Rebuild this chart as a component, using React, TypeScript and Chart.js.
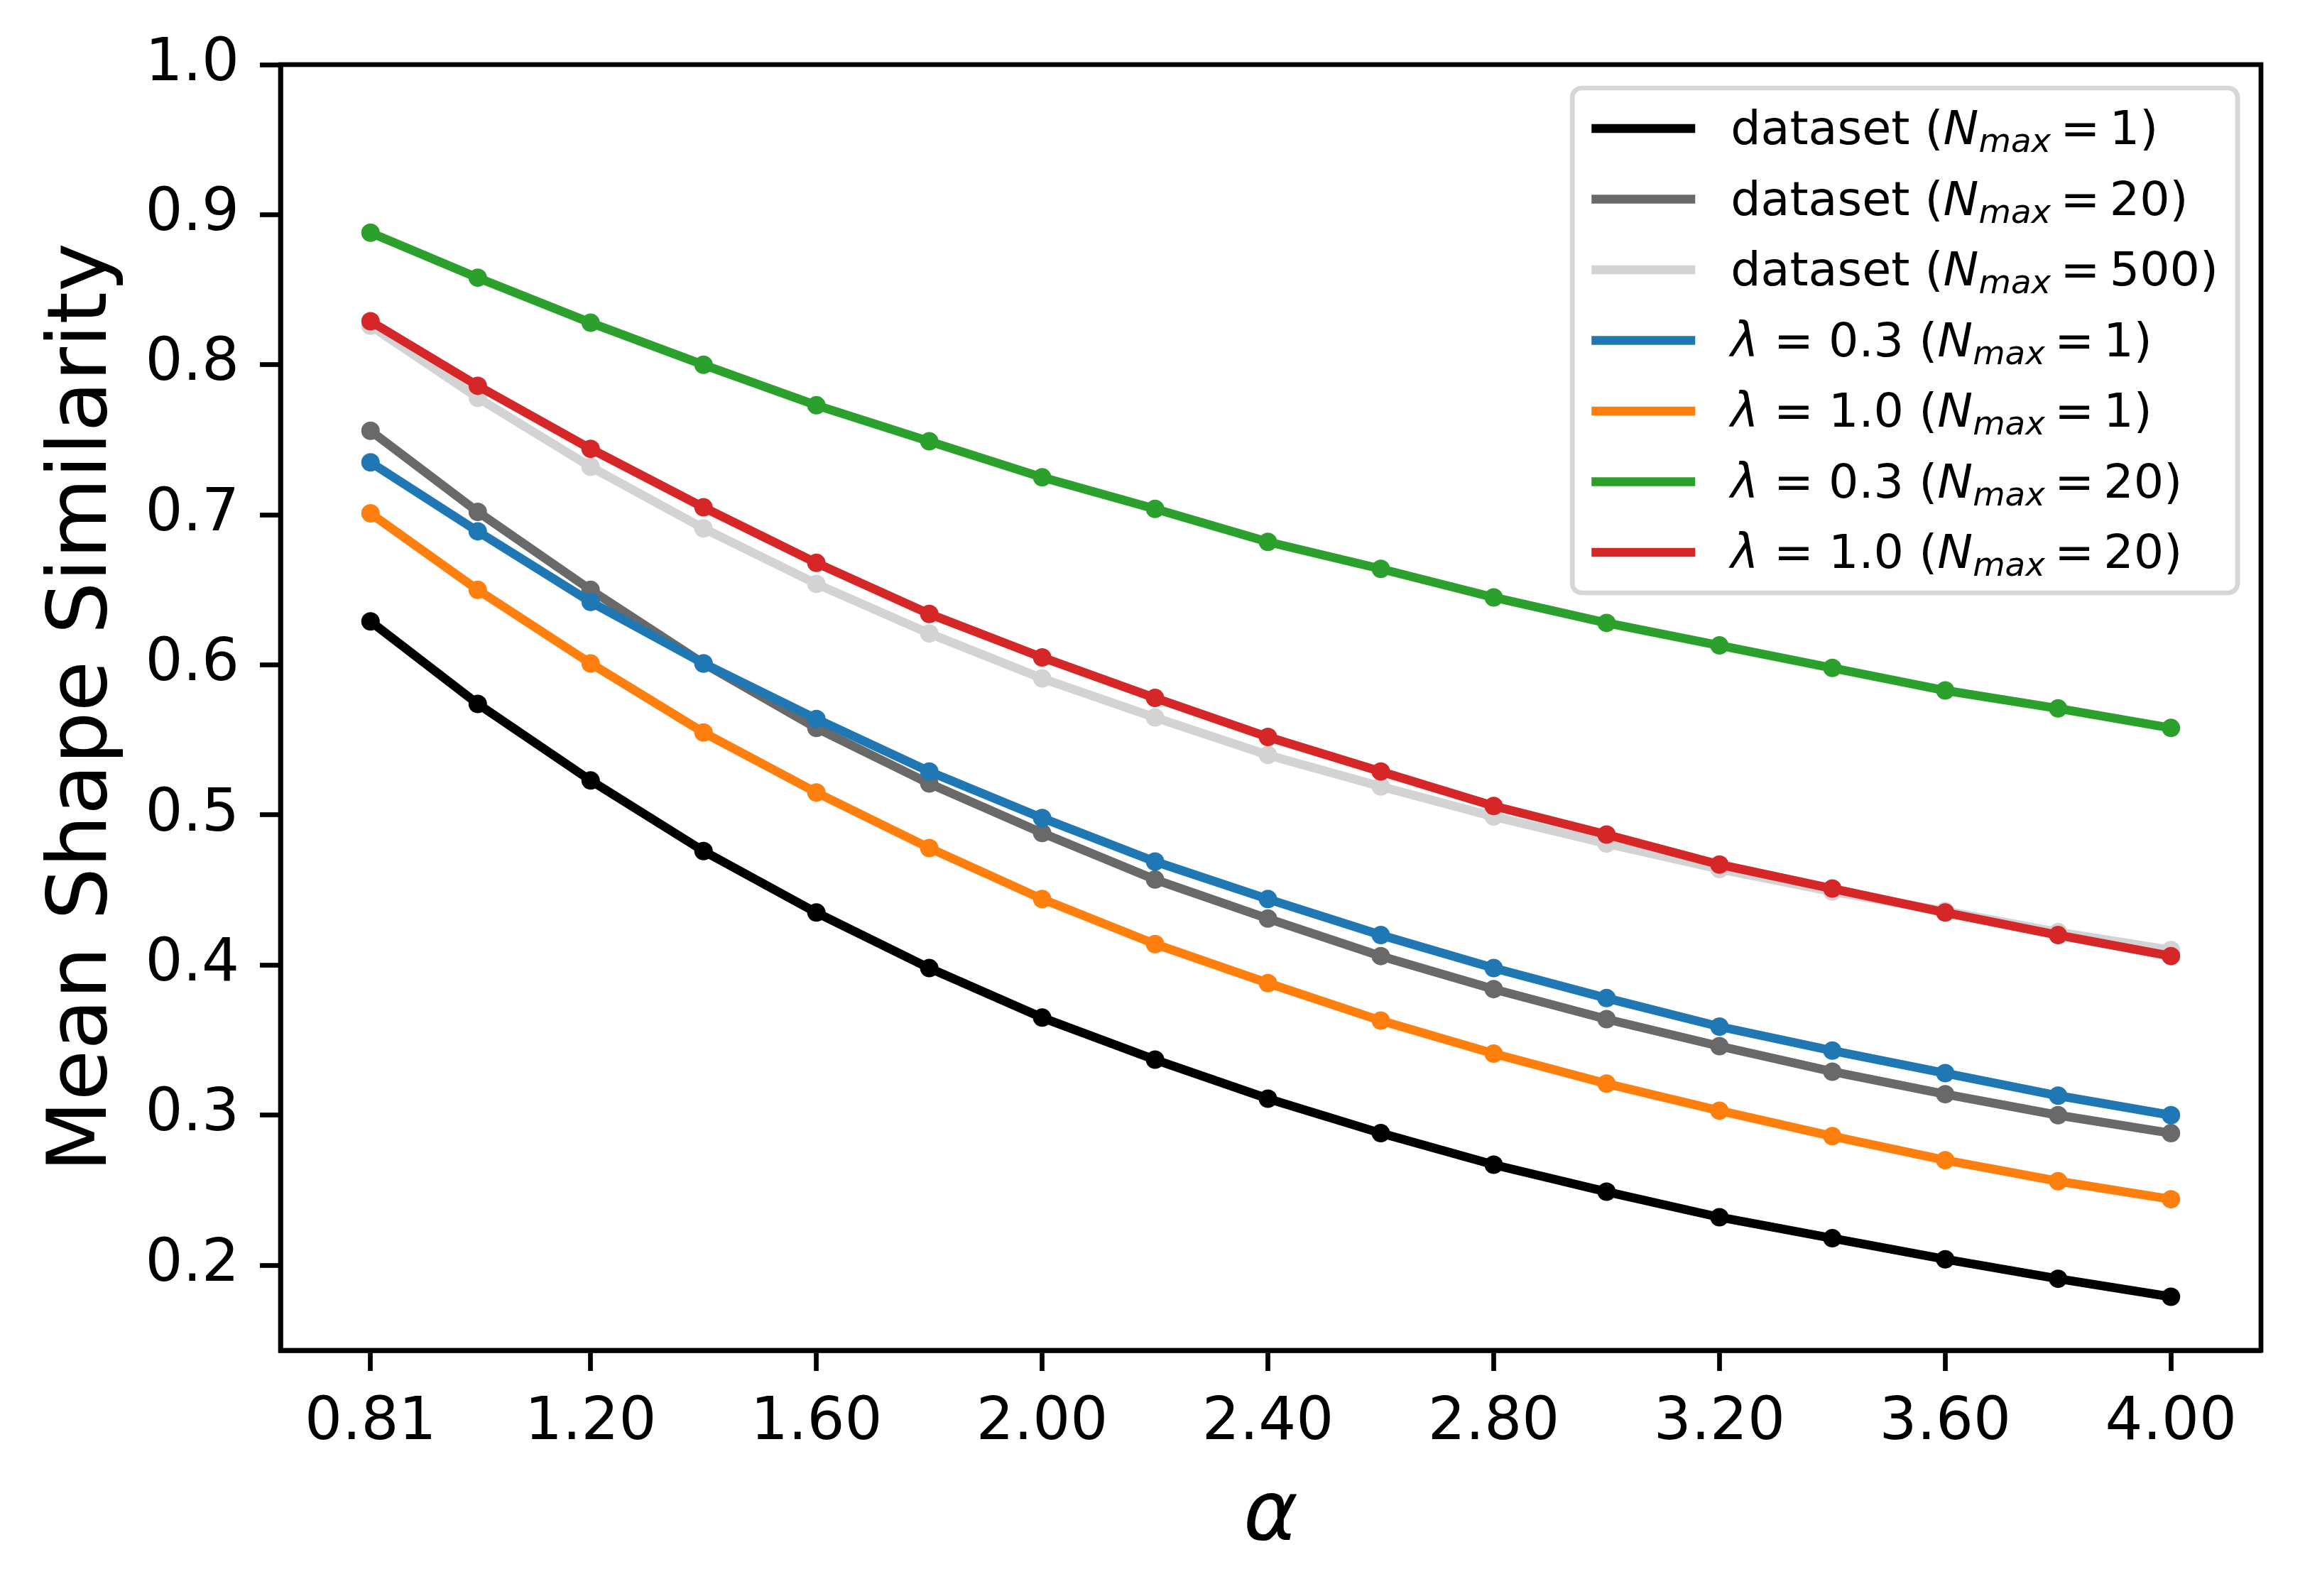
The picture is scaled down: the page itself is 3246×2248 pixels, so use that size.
import { useEffect, useRef } from "react"
import { Chart, registerables } from "chart.js"

Chart.register(...registerables)

const FONT = "'DejaVu Sans', 'Liberation Sans', sans-serif"

// alpha values on the x axis
const alphas = [0.81, 1.0, 1.2, 1.4, 1.6, 1.8, 2.0, 2.2, 2.4, 2.6, 2.8, 3.0, 3.2, 3.4, 3.6, 3.8, 4.0]
const xTickValues = [0.81, 1.2, 1.6, 2.0, 2.4, 2.8, 3.2, 3.6, 4.0]
const yTickValues = [0.2, 0.3, 0.4, 0.5, 0.6, 0.7, 0.8, 0.9, 1.0]

const datasetN1 = [0.629, 0.574, 0.523, 0.476, 0.435, 0.398, 0.365, 0.337, 0.311, 0.288, 0.267, 0.249, 0.232, 0.218, 0.204, 0.191, 0.179]
const datasetN20 = [0.756, 0.702, 0.650, 0.601, 0.558, 0.521, 0.488, 0.457, 0.431, 0.406, 0.384, 0.364, 0.346, 0.329, 0.314, 0.300, 0.288]
const datasetN500 = [0.826, 0.778, 0.732, 0.691, 0.654, 0.621, 0.591, 0.565, 0.540, 0.519, 0.499, 0.481, 0.464, 0.449, 0.436, 0.422, 0.410]
const lam03N1 = [0.735, 0.689, 0.642, 0.601, 0.564, 0.529, 0.498, 0.469, 0.444, 0.420, 0.398, 0.378, 0.359, 0.343, 0.328, 0.313, 0.300]
const lam10N1 = [0.701, 0.650, 0.601, 0.555, 0.515, 0.478, 0.444, 0.414, 0.388, 0.363, 0.341, 0.321, 0.303, 0.286, 0.270, 0.256, 0.244]
const lam03N20 = [0.888, 0.858, 0.828, 0.800, 0.773, 0.749, 0.725, 0.704, 0.682, 0.664, 0.645, 0.628, 0.613, 0.598, 0.583, 0.571, 0.558]
const lam10N20 = [0.829, 0.786, 0.744, 0.705, 0.668, 0.634, 0.605, 0.578, 0.552, 0.529, 0.506, 0.487, 0.467, 0.451, 0.435, 0.420, 0.406]

const seriesValues = [datasetN1, datasetN20, datasetN500, lam03N1, lam10N1, lam03N20, lam10N20]
const seriesColors = ["#000000", "#696969", "#d3d3d3", "#1f77b4", "#ff7f0e", "#2ca02c", "#d62728"]
const seriesNames = [
  "dataset (N_max = 1)",
  "dataset (N_max = 20)",
  "dataset (N_max = 500)",
  "λ = 0.3 (N_max = 1)",
  "λ = 1.0 (N_max = 1)",
  "λ = 0.3 (N_max = 20)",
  "λ = 1.0 (N_max = 20)",
]

// legend text pieces: r = regular, i = italic, s = italic subscript
type Seg = [string, "r" | "i" | "s"]
const legendParts: Seg[][] = [
  [["dataset (", "r"], ["N", "i"], ["max", "s"], ["\u2009=\u20091", "r"], [")", "r"]],
  [["dataset (", "r"], ["N", "i"], ["max", "s"], ["\u2009=\u200920", "r"], [")", "r"]],
  [["dataset (", "r"], ["N", "i"], ["max", "s"], ["\u2009=\u2009500", "r"], [")", "r"]],
  [["λ", "i"], [" = 0.3 (", "r"], ["N", "i"], ["max", "s"], ["\u2009=\u20091", "r"], [")", "r"]],
  [["λ", "i"], [" = 1.0 (", "r"], ["N", "i"], ["max", "s"], ["\u2009=\u20091", "r"], [")", "r"]],
  [["λ", "i"], [" = 0.3 (", "r"], ["N", "i"], ["max", "s"], ["\u2009=\u200920", "r"], [")", "r"]],
  [["λ", "i"], [" = 1.0 (", "r"], ["N", "i"], ["max", "s"], ["\u2009=\u200920", "r"], [")", "r"]],
]

const segFont = (kind: string, fs: number) => {
  if (kind === "r") return `${fs}px ${FONT}`
  if (kind === "i") return `italic ${fs}px ${FONT}`
  return `italic ${fs * 0.7}px ${FONT}`
}

const segWidth = (ctx: CanvasRenderingContext2D, segs: Seg[], fs: number) => {
  let w = 0
  for (const [t, k] of segs) {
    ctx.font = segFont(k, fs)
    w += ctx.measureText(t).width
  }
  return w
}

const framePlugin = {
  id: "frameAndLegend",
  afterDraw(chart: any) {
    const { ctx, chartArea: ca } = chart
    ctx.save()
    ctx.strokeStyle = "#000"
    ctx.lineWidth = 6.7
    ctx.strokeRect(ca.left, ca.top, ca.right - ca.left, ca.bottom - ca.top)

    // legend box, upper right
    const fs = 66.7
    const rowGap = 99.5
    let maxW = 0
    for (const segs of legendParts) maxW = Math.max(maxW, segWidth(ctx, segs, fs))
    const boxRight = ca.right - 33
    const boxTop = ca.top + 33
    const boxW = 27 + 146 + 50 + maxW + 27
    const boxH = 57 * 2 + rowGap * (legendParts.length - 1)
    const boxLeft = boxRight - boxW
    const r = 13
    ctx.beginPath()
    ctx.moveTo(boxLeft + r, boxTop)
    ctx.arcTo(boxRight, boxTop, boxRight, boxTop + boxH, r)
    ctx.arcTo(boxRight, boxTop + boxH, boxLeft, boxTop + boxH, r)
    ctx.arcTo(boxLeft, boxTop + boxH, boxLeft, boxTop, r)
    ctx.arcTo(boxLeft, boxTop, boxRight, boxTop, r)
    ctx.closePath()
    ctx.fillStyle = "rgba(255,255,255,0.8)"
    ctx.fill()
    ctx.strokeStyle = "#d6d6d6"
    ctx.lineWidth = 6.7
    ctx.stroke()

    legendParts.forEach((segs, i) => {
      const cy = boxTop + 57 + i * rowGap
      const hx = boxLeft + 27
      ctx.beginPath()
      ctx.moveTo(hx, cy)
      ctx.lineTo(hx + 146, cy)
      ctx.strokeStyle = seriesColors[i]
      ctx.lineWidth = 12.5
      ctx.lineCap = "butt"
      ctx.stroke()

      let x = hx + 146 + 50
      const base = cy + 22
      ctx.fillStyle = "#000"
      ctx.textBaseline = "alphabetic"
      ctx.textAlign = "left"
      for (const [t, k] of segs) {
        ctx.font = segFont(k, fs)
        ctx.fillText(t, x, k === "s" ? base + fs * 0.17 : base)
        x += ctx.measureText(t).width
      }
    })
    ctx.restore()
  },
}

export default function App() {
  const canvasRef = useRef<HTMLCanvasElement>(null)

  useEffect(() => {
    const ctx = canvasRef.current?.getContext("2d")
    if (!ctx) return

    const chart = new Chart(ctx, {
      type: "line",
      data: {
        datasets: seriesValues.map((vals, i) => ({
          label: seriesNames[i],
          data: alphas.map((a, j) => ({ x: a, y: vals[j] })),
          borderColor: seriesColors[i],
          backgroundColor: seriesColors[i],
          pointBackgroundColor: seriesColors[i],
          pointBorderWidth: 0,
          pointRadius: 13,
          borderWidth: 12.5,
          tension: 0,
          order: seriesValues.length - 1 - i,
        })),
      },
      options: {
        animation: false,
        responsive: false,
        devicePixelRatio: 1,
        layout: { padding: { left: 0, top: 91, right: 62, bottom: 0 } },
        plugins: {
          legend: { display: false },
          tooltip: { enabled: false },
        },
        scales: {
          x: {
            type: "linear",
            min: 0.6505,
            max: 4.1595,
            afterBuildTicks: (s: any) => {
              s.ticks = xTickValues.map((v) => ({ value: v }))
            },
            afterFit: (s: any) => {
              s.height = 346
            },
            ticks: {
              callback: (v: any) => Number(v).toFixed(2),
              font: { family: FONT, size: 83.3 },
              color: "#000",
              padding: 24,
              maxRotation: 0,
              autoSkip: false,
            },
            grid: {
              display: true,
              drawOnChartArea: false,
              drawTicks: true,
              tickLength: 29,
              tickWidth: 6.7,
              tickColor: "#000",
            },
            border: { display: true, color: "#000", width: 6.7 },
            title: {
              display: true,
              text: "α",
              color: "#000",
              font: { family: FONT, size: 116.7, style: "italic" },
              padding: { top: 0, bottom: 40 },
            },
          },
          y: {
            type: "linear",
            min: 0.1433,
            max: 1.0,
            afterBuildTicks: (s: any) => {
              s.ticks = yTickValues.map((v) => ({ value: v }))
            },
            afterFit: (s: any) => {
              s.width = 395
            },
            ticks: {
              callback: (v: any) => Number(v).toFixed(1),
              font: { family: FONT, size: 83.3 },
              color: "#000",
              padding: 29,
            },
            grid: {
              display: true,
              drawOnChartArea: false,
              drawTicks: true,
              tickLength: 29,
              tickWidth: 6.7,
              tickColor: "#000",
            },
            border: { display: true, color: "#000", width: 6.7 },
            title: {
              display: true,
              text: "Mean Shape Similarity",
              color: "#000",
              font: { family: FONT, size: 116.7 },
              padding: { top: 49, bottom: 0 },
            },
          },
        },
      },
      plugins: [framePlugin],
    } as any)

    return () => {
      chart.destroy()
    }
  }, [])

  return (
    <div style={{ position: "fixed", left: 0, top: 0, width: 3246, height: 2248, background: "#fff" }}>
      <canvas ref={canvasRef} width={3246} height={2248} style={{ display: "block" }}></canvas>
    </div>
  )
}
